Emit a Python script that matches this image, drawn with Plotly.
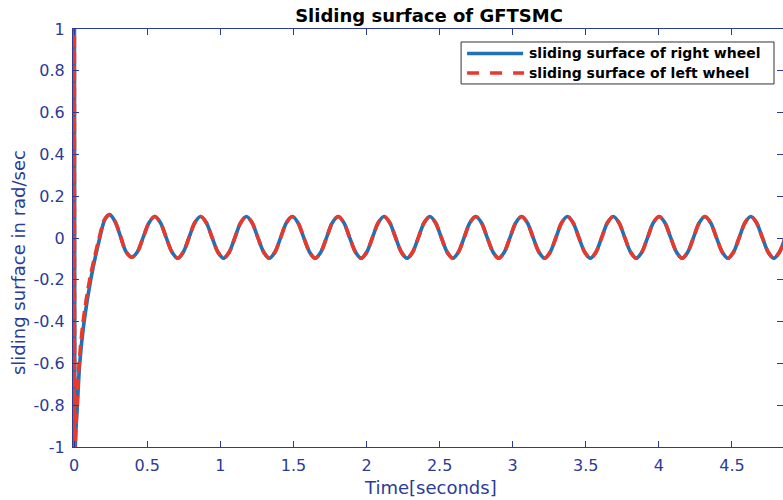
import plotly.graph_objects as go

# ---- data ----
# transient part (right wheel = blue solid, left wheel = red dashed)
t_right_start = [0.0, 0.002, 0.005, 0.010, 0.022, 0.038, 0.068, 0.113, 0.175, 0.210, 0.243,
                 0.280, 0.318, 0.355, 0.394, 0.433, 0.472, 0.512]
s_right_start = [-1.1, 4.0, -1.1, -0.95, -0.80, -0.60, -0.40, -0.20, 0.00, 0.088, 0.112,
                 0.078, 0.005, -0.066, -0.092, -0.066, 0.003, 0.073]
t_left_start = [0.0, 0.002, 0.005, 0.009, 0.019, 0.034, 0.061, 0.106, 0.171, 0.207, 0.241,
                0.280, 0.318, 0.355, 0.394, 0.433, 0.472, 0.512]
s_left_start = [-1.1, 4.0, -1.1, -0.95, -0.80, -0.60, -0.40, -0.20, 0.00, 0.088, 0.110,
                0.078, 0.005, -0.066, -0.092, -0.066, 0.003, 0.073]

# steady oscillation (both wheels overlap)
t_steady = [0.551, 0.590, 0.629, 0.669, 0.708, 0.747, 0.786, 0.825,
            0.865, 0.904, 0.943, 0.983, 1.022, 1.061, 1.100, 1.139,
            1.178, 1.217, 1.256, 1.296, 1.335, 1.374, 1.413, 1.452,
            1.492, 1.531, 1.570, 1.610, 1.649, 1.688, 1.727, 1.766,
            1.806, 1.845, 1.884, 1.924, 1.963, 2.002, 2.041, 2.080,
            2.120, 2.159, 2.198, 2.238, 2.277, 2.316, 2.355, 2.394,
            2.433, 2.472, 2.511, 2.551, 2.590, 2.629, 2.668, 2.707,
            2.747, 2.786, 2.825, 2.865, 2.904, 2.943, 2.982, 3.021,
            3.061, 3.100, 3.139, 3.179, 3.218, 3.257, 3.296, 3.335,
            3.374, 3.413, 3.452, 3.492, 3.531, 3.570, 3.609, 3.648,
            3.688, 3.727, 3.766, 3.806, 3.845, 3.884, 3.923, 3.962,
            4.002, 4.041, 4.080, 4.120, 4.159, 4.198, 4.237, 4.276,
            4.315, 4.354, 4.393, 4.433, 4.472, 4.511, 4.550, 4.589,
            4.629, 4.668, 4.707, 4.747, 4.786, 4.825, 4.864]
s_steady = [0.103, 0.073, 0.003, -0.067, -0.097, -0.067, 0.003, 0.073,
            0.103, 0.073, 0.003, -0.067, -0.097, -0.067, 0.003, 0.073,
            0.103, 0.073, 0.003, -0.067, -0.097, -0.067, 0.003, 0.073,
            0.103, 0.073, 0.003, -0.067, -0.097, -0.067, 0.003, 0.073,
            0.103, 0.073, 0.003, -0.067, -0.097, -0.067, 0.003, 0.073,
            0.103, 0.073, 0.003, -0.067, -0.097, -0.067, 0.003, 0.073,
            0.103, 0.073, 0.003, -0.067, -0.097, -0.067, 0.003, 0.073,
            0.103, 0.073, 0.003, -0.067, -0.097, -0.067, 0.003, 0.073,
            0.103, 0.073, 0.003, -0.067, -0.097, -0.067, 0.003, 0.073,
            0.103, 0.073, 0.003, -0.067, -0.097, -0.067, 0.003, 0.073,
            0.103, 0.073, 0.003, -0.067, -0.097, -0.067, 0.003, 0.073,
            0.103, 0.073, 0.003, -0.067, -0.097, -0.067, 0.003, 0.073,
            0.103, 0.073, 0.003, -0.067, -0.097, -0.067, 0.003, 0.073,
            0.103, 0.073, 0.003, -0.067, -0.097, -0.067, 0.003]

x_ticks = [0, 0.5, 1, 1.5, 2, 2.5, 3, 3.5, 4, 4.5]
x_tick_labels = ["0", "0.5", "1", "1.5", "2", "2.5", "3", "3.5", "4", "4.5"]
y_ticks = [-1, -0.8, -0.6, -0.4, -0.2, 0, 0.2, 0.4, 0.6, 0.8, 1]
y_tick_labels = ["-1", "-0.8", "-0.6", "-0.4", "-0.2", "0", "0.2", "0.4", "0.6", "0.8", "1"]
series_names = ["sliding surface of right wheel", "sliding surface of left wheel"]

AX = "#2b3b96"
BLUE = "#1f72b8"
RED = "#e8392b"
FONT = "DejaVu Sans, Liberation Sans, sans-serif"

# plot area in pixels (from the reference)
PL, PR, PT, PB = 72.8, 783.0, 29.0, 447.3
def px(x):  # pixel -> paper x
    return (x - PL) / (PR - PL)
def py(y):  # pixel -> paper y
    return (PB - y) / (PB - PT)

fig = go.Figure()
fig.add_trace(go.Scatter(x=t_right_start + t_steady, y=s_right_start + s_steady, mode="lines",
                         name=series_names[0], showlegend=False,
                         line=dict(color=BLUE, width=3.6, shape="spline", smoothing=0.9)))
fig.add_trace(go.Scatter(x=t_left_start + t_steady, y=s_left_start + s_steady, mode="lines",
                         name=series_names[1], showlegend=False,
                         line=dict(color=RED, width=3.6, dash="11px,6px",
                                   shape="spline", smoothing=0.9)))

axis_common = dict(showgrid=False, zeroline=False, showline=True, linecolor=AX, linewidth=1.2,
                   mirror="ticks", ticks="inside", tickcolor=AX, ticklen=6, tickwidth=1,
                   tickfont=dict(family=FONT, size=16, color=AX))

# legend box drawn like the reference's
shapes = [
    dict(type="rect", xref="paper", yref="paper", x0=px(461), x1=px(774), y0=py(84), y1=py(42),
         fillcolor="white", line=dict(color="#333333", width=1), layer="above"),
    dict(type="line", xref="paper", yref="paper", x0=px(467), x1=px(523), y0=py(53.5), y1=py(53.5),
         line=dict(color=BLUE, width=3.6), layer="above"),
    dict(type="line", xref="paper", yref="paper", x0=px(467), x1=px(524), y0=py(73), y1=py(73),
         line=dict(color=RED, width=3.6, dash="12px,11px"), layer="above"),
]
legend_texts = [
    dict(text="<b>%s</b>" % series_names[0], xref="paper", yref="paper", x=px(527), y=py(53.5),
         xanchor="left", yanchor="middle", showarrow=False,
         font=dict(family=FONT, size=14, color="black")),
    dict(text="<b>%s</b>" % series_names[1], xref="paper", yref="paper", x=px(527), y=py(73),
         xanchor="left", yanchor="middle", showarrow=False,
         font=dict(family=FONT, size=14, color="black")),
]

fig.update_layout(
    width=783, height=500,
    margin=dict(l=73, r=0, t=29, b=53),
    paper_bgcolor="white", plot_bgcolor="white",
    title=dict(text="<b>Sliding surface of GFTSMC</b>", x=429 / 783, xanchor="center",
               xref="container", y=1 - 16 / 500, yanchor="middle",
               font=dict(family=FONT, size=18, color="black")),
    xaxis=dict(range=[-0.008, 4.849], tickvals=x_ticks, ticktext=x_tick_labels,
               ticklabelstandoff=4, **axis_common),
    yaxis=dict(range=[-1, 1], tickvals=y_ticks, ticktext=y_tick_labels,
               ticklabelstandoff=4, **axis_common),
    shapes=shapes,
    annotations=legend_texts + [
        dict(text="Time[seconds]", xref="paper", yref="paper", x=px(430), y=py(488),
             xanchor="center", yanchor="middle", showarrow=False,
             font=dict(family=FONT, size=18, color=AX)),
        dict(text="sliding surface in rad/sec", xref="paper", yref="paper",
             x=px(19), y=py(263), textangle=-90,
             xanchor="center", yanchor="middle", showarrow=False,
             font=dict(family=FONT, size=18, color=AX)),
    ],
    showlegend=False,
)

fig.write_html("out.html")
